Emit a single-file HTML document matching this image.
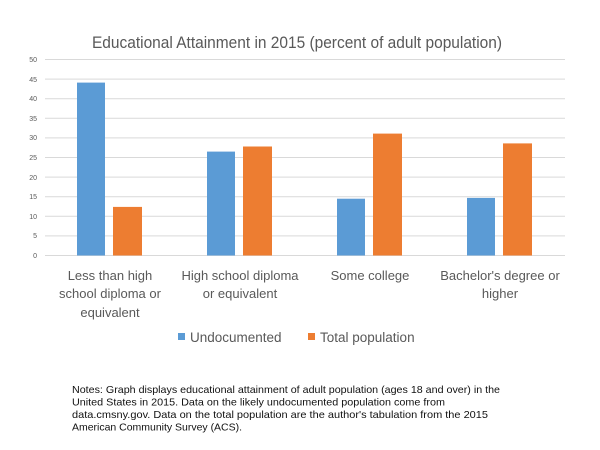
<!DOCTYPE html>
<html><head><style>html,body{margin:0;padding:0;background:#fff;}svg{display:block}</style></head>
<body>
<svg width="600" height="450" xmlns="http://www.w3.org/2000/svg" font-family="Liberation Sans, sans-serif">
<rect width="600" height="450" fill="#fff"/>
<text x="297" y="48" font-size="17" fill="#595959" text-anchor="middle" textLength="410" lengthAdjust="spacingAndGlyphs">Educational Attainment in 2015 (percent of adult population)</text>
<g stroke="#d9d9d9" stroke-width="1">
<line x1="45" x2="565" y1="59.5" y2="59.5"/><line x1="45" x2="565" y1="79.1" y2="79.1"/>
<line x1="45" x2="565" y1="98.7" y2="98.7"/><line x1="45" x2="565" y1="118.3" y2="118.3"/>
<line x1="45" x2="565" y1="137.9" y2="137.9"/><line x1="45" x2="565" y1="157.5" y2="157.5"/>
<line x1="45" x2="565" y1="177.1" y2="177.1"/><line x1="45" x2="565" y1="196.7" y2="196.7"/>
<line x1="45" x2="565" y1="216.3" y2="216.3"/><line x1="45" x2="565" y1="235.9" y2="235.9"/>
<line x1="45" x2="565" y1="255.5" y2="255.5"/>
</g>
<g font-size="7" fill="#595959" text-anchor="end">
<text x="37" y="62">50</text><text x="37" y="82">45</text><text x="37" y="101">40</text>
<text x="37" y="121">35</text><text x="37" y="140">30</text><text x="37" y="160">25</text>
<text x="37" y="180">20</text><text x="37" y="199">15</text><text x="37" y="219">10</text>
<text x="37" y="238">5</text><text x="37" y="258">0</text>
</g>
<g fill="#5b9bd5">
<rect x="77" y="82.6" width="28" height="172.9"/>
<rect x="207" y="151.6" width="28" height="103.9"/>
<rect x="337" y="198.7" width="28" height="56.8"/>
<rect x="467" y="197.9" width="28" height="57.6"/>
</g>
<g fill="#ed7d31">
<rect x="113" y="206.9" width="29" height="48.6"/>
<rect x="243" y="146.5" width="29" height="109"/>
<rect x="373" y="133.6" width="29" height="121.9"/>
<rect x="503" y="143.4" width="29" height="112.1"/>
</g>
<g font-size="13" fill="#595959" text-anchor="middle">
<text x="110" y="280">Less than high</text>
<text x="110" y="298">school diploma or</text>
<text x="110" y="317">equivalent</text>
<text x="240" y="280">High school diploma</text>
<text x="240" y="298">or equivalent</text>
<text x="370" y="280">Some college</text>
<text x="500" y="280">Bachelor's degree or</text>
<text x="500" y="298">higher</text>
</g>
<rect x="178" y="333" width="7" height="7" fill="#5b9bd5"/>
<text x="190" y="342" font-size="13.5" fill="#595959">Undocumented</text>
<rect x="308" y="333" width="7" height="7" fill="#ed7d31"/>
<text x="320" y="342" font-size="13.5" fill="#595959">Total population</text>
<g font-size="10.5" fill="#111">
<text x="72" y="393" textLength="428" lengthAdjust="spacingAndGlyphs">Notes: Graph displays educational attainment of adult population (ages 18 and over) in the</text>
<text x="72" y="405.5" textLength="373" lengthAdjust="spacingAndGlyphs">United States in 2015. Data on the likely undocumented population come from</text>
<text x="72" y="418" textLength="416" lengthAdjust="spacingAndGlyphs">data.cmsny.gov. Data on the total population are the author's tabulation from the 2015</text>
<text x="72" y="430.5" textLength="170" lengthAdjust="spacingAndGlyphs">American Community Survey (ACS).</text>
</g>
</svg>
</body></html>
